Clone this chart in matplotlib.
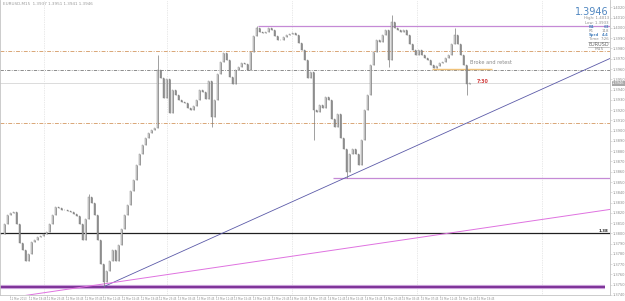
import numpy as np
import matplotlib
matplotlib.use("Agg")
import matplotlib.pyplot as plt
from matplotlib.patches import Rectangle

# -----------------------------
# DATA (EURUSD, M15)
# -----------------------------
closes = [
    1.3799, 1.3809, 1.3818, 1.3820, 1.3821, 1.3809, 1.3791, 1.3784, 1.3773, 1.3780,
    1.3792, 1.3794, 1.3796, 1.3797, 1.3799, 1.3801, 1.3809, 1.3818, 1.3826, 1.3825,
    1.3823, 1.3823, 1.3822, 1.3821, 1.3819, 1.3817, 1.3809, 1.3794, 1.3814, 1.3835,
    1.3830, 1.3818, 1.3794, 1.3770, 1.3753, 1.3763, 1.3773, 1.3784, 1.3773, 1.3789,
    1.3804, 1.3818, 1.3828, 1.3841, 1.3852, 1.3867, 1.3877, 1.3886, 1.3893, 1.3898,
    1.3901, 1.3903, 1.3959, 1.3951, 1.3932, 1.3950, 1.3917, 1.3940, 1.3935, 1.3930,
    1.3928, 1.3927, 1.3922, 1.3920, 1.3924, 1.3930, 1.3940, 1.3938, 1.3931, 1.3948,
    1.3913, 1.3930, 1.3955, 1.3967, 1.3976, 1.3969, 1.3952, 1.3945, 1.3959, 1.3962,
    1.3966, 1.3965, 1.3959, 1.3977, 1.3992, 1.4000, 1.3996, 1.3995, 1.3996, 1.4000,
    1.3998, 1.3992, 1.3988, 1.3988, 1.3991, 1.3993, 1.3994, 1.3995, 1.3993, 1.3985,
    1.3979, 1.3969, 1.3951, 1.3957, 1.3920, 1.3918, 1.3925, 1.3922, 1.3933, 1.3930,
    1.3911, 1.3904, 1.3916, 1.3893, 1.3882, 1.3860, 1.3877, 1.3882, 1.3877, 1.3867,
    1.3891, 1.3920, 1.3935, 1.3964, 1.3977, 1.3988, 1.3986, 1.3993, 1.3998, 1.3969,
    1.4006, 1.4000, 1.3998, 1.3996, 1.3998, 1.3993, 1.3984, 1.3979, 1.3974, 1.3979,
    1.3974, 1.3971, 1.3969, 1.3964, 1.3961, 1.3963, 1.3966, 1.3967, 1.3971, 1.3974,
    1.3984, 1.3993, 1.3984, 1.3974, 1.3964, 1.3945, 1.3946,
]
# wick extremes that stick out of the bodies (bar index -> price)
spike_highs = {29: 1.3838, 52: 1.3974, 85: 1.4002, 130: 1.4013, 151: 1.4000}
spike_lows = {34: 1.3748, 70: 1.3904, 104: 1.3891, 115: 1.3854, 129: 1.3962, 155: 1.3935}

bid = 1.3946
resistance_top = 1.4002      # purple, from the first top
support_mid = 1.3854         # purple, from the swing low
support_low = 1.3748         # thick purple
level_138 = 1.3800           # black
pivot_up = 1.3978            # tan dash-dot
pivot_mid = 1.3959           # grey dash-dot
pivot_dn = 1.3907            # tan dash-dot
retest_level = 1.3960        # short orange segment

blue_trend = [(34, 1.3748), (114.5, 1.3854)]
pink_trend = [(6.2, 1.37388), (202.8, 1.38233)]

ytick_vals = [round(1.3740 + 0.001 * k, 4) for k in range(29)]
xtick_labels = ["11 Mar 2013", "11 Mar 19:45", "11 Mar 23:45", "12 Mar 03:45", "12 Mar 07:45",
                "12 Mar 11:45", "12 Mar 15:45", "12 Mar 19:45", "12 Mar 23:45", "13 Mar 03:45",
                "13 Mar 07:45", "13 Mar 11:45", "13 Mar 15:45", "13 Mar 19:45", "13 Mar 23:45",
                "14 Mar 03:45", "14 Mar 07:45", "14 Mar 11:45", "14 Mar 15:45", "14 Mar 19:45",
                "14 Mar 23:45", "15 Mar 03:45", "15 Mar 07:45", "15 Mar 11:45", "15 Mar 15:45",
                "15 Mar 19:45"]

# -----------------------------
# FIGURE
# -----------------------------
W, H = 625, 301
fig = plt.figure(figsize=(W / 100, H / 100), dpi=100)
fig.patch.set_facecolor("white")
ax = fig.add_axes([0, 6 / H, 610 / W, 295 / H])
ax.set_facecolor("white")
XMIN, XMAX = -0.5, 202.8
ax.set_xlim(XMIN, XMAX)
ax.set_ylim(1.37408, 1.40272)

# grid (vertical dotted)
for gx in [14.2, 55.2, 96.8, 138.5, 180.2]:
    ax.axvline(gx, color="#d4d4d4", lw=0.5, ls=(0, (1, 1.5)), zorder=0)

# horizontal levels
ax.axhline(pivot_up, color="#d9a676", lw=0.7, ls=(0, (4, 1.5, 1, 1.5)), zorder=1)
ax.axhline(pivot_mid, color="#7a7a7a", lw=0.6, ls=(0, (4, 1.5, 1, 1.5)), zorder=1)
ax.axhline(pivot_dn, color="#d9a676", lw=0.7, ls=(0, (4, 1.5, 1, 1.5)), zorder=1)
ax.axhline(bid, color="#d6d6d6", lw=0.6, zorder=1)
ax.axhline(level_138, color="#202020", lw=0.9, zorder=2)
ax.hlines(resistance_top, 85.5, XMAX, color="#c58ad6", lw=0.9, zorder=2)
ax.hlines(support_mid, 110.5, XMAX, color="#c58ad6", lw=0.9, zorder=2)
ax.hlines(support_low, XMIN, 201.2, color="#caa0da", lw=3.0, zorder=2)
ax.hlines(support_low, XMIN, 201.2, color="#7d3398", lw=1.4, zorder=2)
ax.hlines(retest_level, 143.5, 163.5, color="#f0c27a", lw=1.0, zorder=2)

# trend lines
(bx0, by0), (bx1, by1) = blue_trend
bslope = (by1 - by0) / (bx1 - bx0)
ax.plot([bx0, XMAX], [by0, by0 + bslope * (XMAX - bx0)], color="#5b5aa8", lw=0.6, zorder=3)
(px0, py0), (px1, py1) = pink_trend
ax.plot([px0, px1], [py0, py1], color="#df72e0", lw=0.7, zorder=3)

# candles
for i, c in enumerate(closes):
    o = closes[i - 1] if i > 0 else c
    hi = max(o, c, spike_highs.get(i, c))
    lo = min(o, c, spike_lows.get(i, c))
    ax.vlines(i, lo, hi, color="#7a7a7a", lw=0.5, zorder=4)
    body_lo = min(o, c)
    body_h = max(abs(c - o), 0.00002)
    face = "#f4f4f4" if c >= o else "#9c9c9c"
    ax.add_patch(Rectangle((i - 0.27, body_lo), 0.54, body_h, facecolor=face,
                           edgecolor="#7a7a7a", lw=0.3, zorder=5))

# annotations
ax.text(156.2, 1.3964, "Broke and retest", fontsize=3.6, color="#8a8a8a", va="bottom", zorder=6)
ax.text(158.3, 1.3948, "7:30", fontsize=3.4, color="#d23a3a", fontweight="bold", va="center", zorder=6)
ax.text(XMAX - 0.6, level_138 + 0.00003, "1.38", fontsize=2.8, color="#202020",
        ha="right", va="bottom", fontweight="bold", zorder=6)

# axes styling
ax.spines["top"].set_visible(False)
for side in ["left", "right", "bottom"]:
    ax.spines[side].set_color("#c4c4c4")
    ax.spines[side].set_linewidth(0.6)
ax.yaxis.tick_right()
ax.set_yticks(ytick_vals)
ax.set_yticklabels([f"{v:.4f}" for v in ytick_vals])
ax.tick_params(axis="y", labelsize=2.6, labelcolor="#8c8c8c", color="#c4c4c4",
               length=1.2, width=0.4, pad=0.8)
xt = [2.8 + 6.23 * k for k in range(len(xtick_labels))]
ax.set_xticks(xt)
ax.set_xticklabels(xtick_labels, ha="left")
ax.tick_params(axis="x", labelsize=1.9, labelcolor="#8c8c8c", color="#c4c4c4",
               length=1.2, width=0.4, pad=0.6)

# current price tag on axis
ax.annotate(f"{bid:.4f}", xy=(1.0, bid), xycoords=("axes fraction", "data"),
            xytext=(1.5, 0), textcoords="offset points", fontsize=2.6, color="white",
            va="center", ha="left",
            bbox=dict(boxstyle="square,pad=0.15", facecolor="#a8a8a8", edgecolor="none"))


def px(x, y):
    return x / W, 1 - y / H


# header and info panel
fig.text(*px(3, 2), "EURUSD,M15  1.3937 1.3951 1.3941 1.3946", fontsize=3.0,
         color="#9a9a9a", va="top")
fig.text(*px(609, 12), "1.3946", fontsize=7, color="#4f86c0", ha="right", va="center")
fig.text(*px(609, 18.5), "High: 1.4013", fontsize=2.8, color="#8c8c8c", ha="right", va="center")
fig.text(*px(609, 22.5), "Low: 1.3933", fontsize=2.8, color="#8c8c8c", ha="right", va="center")
fig.text(*px(589, 27), "B1", fontsize=2.9, color="#4f86c0", va="center", fontweight="bold")
fig.text(*px(609, 27), "63", fontsize=2.9, color="#4f86c0", ha="right", va="center", fontweight="bold")
fig.text(*px(589, 31), "R1", fontsize=2.8, color="#8c8c8c", va="center")
fig.text(*px(609, 31), "118", fontsize=2.8, color="#8c8c8c", ha="right", va="center")
fig.text(*px(589, 35), "Sprd", fontsize=2.8, color="#4f86c0", va="center", fontweight="bold")
fig.text(*px(609, 35), "4.4", fontsize=2.8, color="#4f86c0", ha="right", va="center", fontweight="bold")
fig.text(*px(589, 39), "Time", fontsize=2.8, color="#8c8c8c", va="center")
fig.text(*px(609, 39), "7:26", fontsize=2.8, color="#8c8c8c", ha="right", va="center")
fig.text(*px(599, 44), "EURUSD", fontsize=3.6, color="#6a6a6a", ha="center", va="center")
fig.text(*px(599, 49), "M15", fontsize=3.2, color="#8c8c8c", ha="center", va="center")
fig.add_artist(plt.Line2D([588 / W, 609 / W], [1 - 41.5 / H] * 2, color="#9a9a9a", lw=0.4))
fig.add_artist(plt.Line2D([588 / W, 609 / W], [1 - 46.5 / H] * 2, color="#9a9a9a", lw=0.4))

fig.savefig("out.png", dpi=100, facecolor="white")
plt.close(fig)
